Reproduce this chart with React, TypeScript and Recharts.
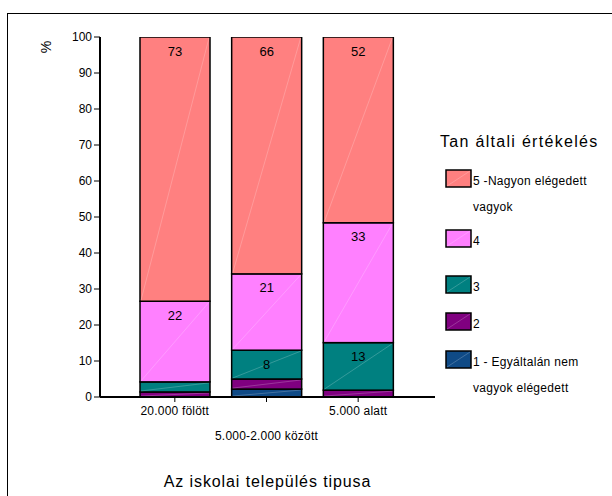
import { BarChart, Bar, XAxis, YAxis, Legend, LabelList } from 'recharts'

const categories = ['20.000 fölött', '5.000-2.000 között', '5.000 alatt']
const level1 = [0, 2.2, 0]
const level2 = [1.4, 2.8, 1.9]
const level3 = [2.8, 8.0, 13.2]
const level4 = [22.4, 21.2, 33.3]
const level5 = [73.4, 65.8, 51.6]
const seriesKeys = ['l1', 'l2', 'l3', 'l4', 'l5']
const seriesNames = ['1 - Egyáltalán nem\nvagyok elégedett', '2', '3', '4', '5 -Nagyon elégedett\nvagyok']
const seriesColors = ['#0f4a86', '#800080', '#008080', '#ff80ff', '#ff8080']
const yTicks = [0, 10, 20, 30, 40, 50, 60, 70, 80, 90, 100]

const FONT = '"Liberation Sans", Arial, sans-serif'

const data = categories.map((name, i) => ({
    name,
    l1: level1[i],
    l2: level2[i],
    l3: level3[i],
    l4: level4[i],
    l5: level5[i],
}))

function SegmentShape(props: any) {
    const { x, y, width, height, fill } = props
    if (!height || height <= 0.5) return null
    return (
        <g>
            <rect x={x} y={y} width={width} height={height} fill={fill} stroke="#000" strokeWidth={1.5} />
            <line x1={x + 1} y1={y + height - 1} x2={x + width - 1} y2={y + 1}
                stroke="#fff" strokeOpacity={0.3} strokeWidth={0.7} />
        </g>
    )
}

function SegmentLabel(props: any) {
    const { x, y, width, value } = props
    if (value == null || value < 5) return null
    return (
        <text x={x + width / 2} y={y + 14} textAnchor="middle" dominantBaseline="central"
            fontSize={13} fontFamily={FONT} fill="#000">
            {Math.round(value)}
        </text>
    )
}

function CategoryTick(props: any) {
    const { x, y, payload, index } = props
    const dy = index === 1 ? 36 : 11
    return (
        <text x={x} y={y + dy} textAnchor="middle" fontSize={12} fontFamily={FONT} fill="#000" letterSpacing={0.2}>
            {payload.value}
        </text>
    )
}

function LegendBox(props: any) {
    const items = [...(props.payload || [])].reverse()
    const swatchTops = [170, 230, 276, 313, 351]
    return (
        <svg width={180} height={290} style={{ overflow: 'visible' }}>
            <text x={10} y={147 - 120} fontSize={16} fontFamily={FONT} fill="#000" letterSpacing={1.3}>
                Tan általi értékelés
            </text>
            {items.map((entry: any, i: number) => {
                const top = swatchTops[i] - 120
                const lines = String(entry.value).split('\n')
                return (
                    <g key={i}>
                        <rect x={16} y={top} width={25} height={17} fill={entry.color} stroke="#000" strokeWidth={1.5} />
                        <line x1={17} y1={top + 16} x2={40} y2={top + 1} stroke="#fff" strokeOpacity={0.3} strokeWidth={0.7} />
                        {lines.map((ln, j) => (
                            <text key={j} x={43} y={top + 15 + j * 26} fontSize={12} fontFamily={FONT} fill="#000" letterSpacing={0.3}>
                                {ln}
                            </text>
                        ))}
                    </g>
                )
            })}
        </svg>
    )
}

export default function App() {
    return (
        <div style={{ position: 'absolute', left: 0, top: 0, width: 612, height: 496, background: '#fff', overflow: 'hidden' }}>
            <div style={{ position: 'absolute', left: 7, top: 13, width: 640, height: 520, border: '1.5px solid #000' }} />
            <div style={{ position: 'absolute', left: 0, top: 0 }}>
                <BarChart width={612} height={496} data={data} barCategoryGap={11}
                    margin={{ top: 37, right: 177, bottom: 69, left: 40 }}>
                    <XAxis dataKey="name" height={30} padding={{ left: 29, right: 31 }}
                        axisLine={{ stroke: '#000', strokeWidth: 2 }}
                        tickLine={{ stroke: '#000' }} tickSize={5}
                        tick={<CategoryTick />} interval={0}
                        label={(p: any) => {
                            const vb = p.viewBox || {}
                            return (
                                <text x={(vb.x ?? 100) + (vb.width ?? 335) / 2} y={487} textAnchor="middle"
                                    fontSize={16} fontFamily={FONT} fill="#000" letterSpacing={0.9}>
                                    Az iskolai település tipusa
                                </text>
                            )
                        }} />
                    <XAxis xAxisId="top" dataKey="name" orientation="top" height={0} tick={false} tickLine={false}
                        axisLine={{ stroke: '#222', strokeWidth: 1 }} />
                    <YAxis domain={[0, 100]} ticks={yTicks} allowDataOverflow width={60}
                        axisLine={{ stroke: '#000', strokeWidth: 2 }}
                        tickLine={{ stroke: '#000' }} tickSize={6}
                        tick={{ fontSize: 12, fontFamily: FONT, fill: '#000' }}
                        label={() => (
                            <text x={46} y={47} textAnchor="middle" dominantBaseline="central"
                                transform="rotate(-90 46 47)" fontSize={14} fontFamily={FONT} fill="#000">
                                %
                            </text>
                        )} />
                    <YAxis yAxisId="right" orientation="right" width={0} tick={false} tickLine={false}
                        axisLine={{ stroke: '#222', strokeWidth: 1 }} />
                    {seriesKeys.map((k, i) => (
                        <Bar key={k} dataKey={k} stackId="a" name={seriesNames[i]} fill={seriesColors[i]}
                            shape={<SegmentShape />} isAnimationActive={false}>
                            <LabelList dataKey={k} content={<SegmentLabel />} />
                        </Bar>
                    ))}
                    <Legend layout="horizontal" verticalAlign="middle"
                        wrapperStyle={{ position: 'absolute', left: 430, top: 120, width: 180, height: 290 }}
                        content={<LegendBox />} />
                </BarChart>
            </div>
        </div>
    )
}
